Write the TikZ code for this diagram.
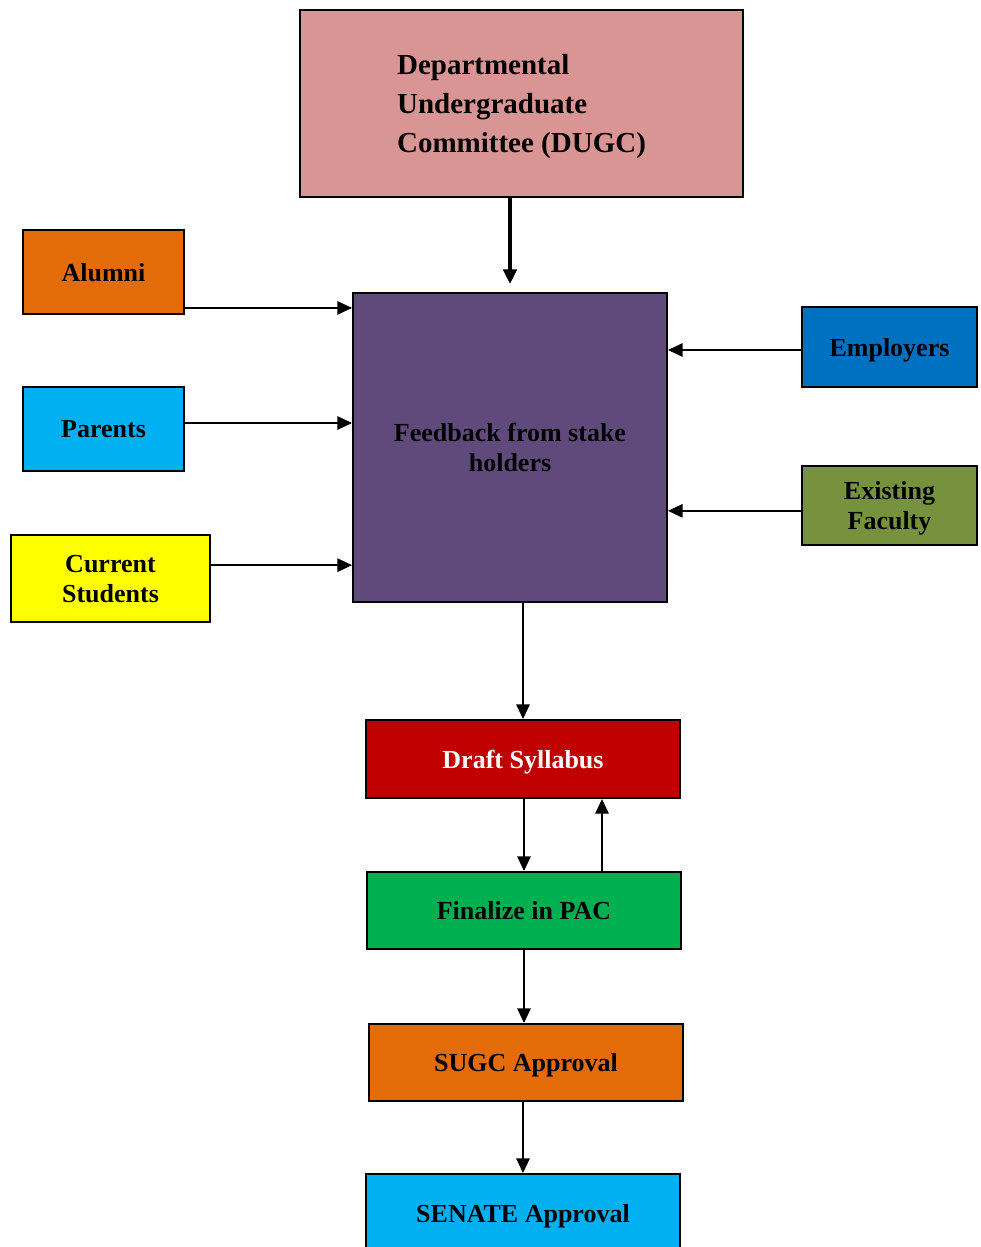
\documentclass[tikz,border=0pt]{standalone}
\usepackage{fontspec}
\setmainfont{Liberation Serif}
\usetikzlibrary{arrows.meta}

\definecolor{dugcpink}{HTML}{D99594}
\definecolor{fbpurple}{HTML}{604A7B}
\definecolor{boxorange}{HTML}{E36C09}
\definecolor{boxcyan}{HTML}{00B0F0}
\definecolor{boxyellow}{HTML}{FFFF00}
\definecolor{boxblue}{HTML}{0070C0}
\definecolor{boxolive}{HTML}{76923C}
\definecolor{boxred}{HTML}{C00000}
\definecolor{boxgreen}{HTML}{00B050}

\begin{document}
\begin{tikzpicture}[x=0.75pt,y=0.75pt,
    box/.style 2 args={draw,line width=1.4pt,minimum width=#1*0.75pt,minimum height=#2*0.75pt,
      inner sep=0pt,text depth=0pt,align=center,font=\bfseries\fontsize{19.5}{22.5}\selectfont},
    arr/.style={-{Triangle[length=11pt,width=10pt]},line width=1.3pt}]
  \useasboundingbox (0,0) rectangle (981,-1247);

  % committee and feedback
  \node[box={443}{187},fill=dugcpink,align=left,font=\bfseries\fontsize{21.75}{29.25}\selectfont]
    (dugc) at (521.5,-103.5) {Departmental\\Undergraduate\\Committee (DUGC)};
  \node[box={314}{309},fill=fbpurple] (fb) at (510,-447.5) {Feedback from stake\\holders};

  % stake holders
  \node[box={161}{84},fill=boxorange] (alumni) at (103.5,-272) {Alumni};
  \node[box={161}{84},fill=boxcyan] (parents) at (103.5,-429) {Parents};
  \node[box={199}{87},fill=boxyellow] (students) at (110.5,-578.5) {Current\\Students};
  \node[box={175}{80},fill=boxblue] (employers) at (889.5,-347) {Employers};
  \node[box={175}{79},fill=boxolive] (faculty) at (889.5,-505.5) {Existing\\Faculty};

  % approval chain
  \node[box={314}{78},fill=boxred,text=white] (draft) at (523,-759) {Draft Syllabus};
  \node[box={314}{77},fill=boxgreen] (pac) at (524,-910.5) {Finalize in PAC};
  \node[box={314}{77},fill=boxorange] (sugc) at (526,-1062.5) {SUGC Approval};
  \node[box={314}{78},fill=boxcyan] (senate) at (523,-1213) {SENATE Approval};

  \draw[arr,line width=3pt] (dugc.south -| fb.north) -- ([yshift=6pt]fb.north);
  \draw[arr] ([yshift=5.25pt]alumni.south east) -- ([yshift=5.25pt]alumni.south east -| fb.west);
  \draw[arr] ([yshift=4.5pt]parents.east) -- ([yshift=4.5pt]parents.east -| fb.west);
  \draw[arr] ([yshift=10pt]students.east) -- ([yshift=10pt]students.east -| fb.west);
  \draw[arr] ([yshift=-2.25pt]employers.west) -- ([yshift=-2.25pt]employers.west -| fb.east);
  \draw[arr] ([yshift=-4pt]faculty.west) -- ([yshift=-4pt]faculty.west -| fb.east);

  \draw[arr] (fb.south -| draft.north) -- (draft.north);
  \draw[arr] (draft.south -| pac.north) -- (pac.north);
  \draw[arr] ([xshift=58.5pt]pac.north) -- ([xshift=58.5pt]pac.north |- draft.south);
  \draw[arr] (pac.south -| 524,0) -- (sugc.north -| 524,0);
  \draw[arr] (sugc.south -| senate.north) -- (senate.north);
\end{tikzpicture}
\end{document}
